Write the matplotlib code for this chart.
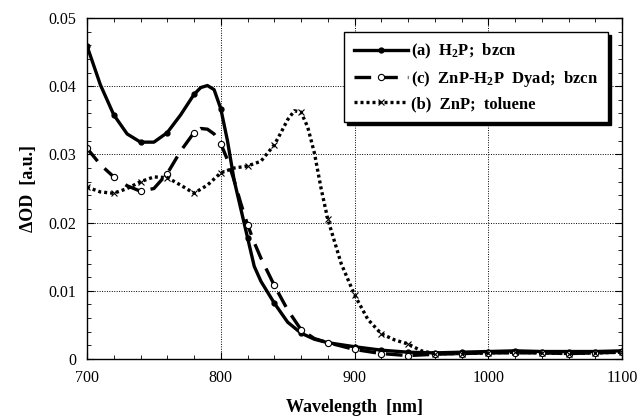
import numpy as np
import matplotlib.pyplot as plt
from matplotlib.ticker import MultipleLocator

# (a) H2P in benzonitrile
wl_a = [700, 710, 720, 730, 740, 750, 760, 770, 780, 785, 790, 795, 800, 805, 810, 815, 820,
        825, 830, 840, 850, 860, 870, 880, 890, 900, 920, 940, 960, 980, 1000, 1020, 1040,
        1060, 1080, 1100]
od_a = [0.0459, 0.0402, 0.0358, 0.0330, 0.0318, 0.0318, 0.0332, 0.0358, 0.0388, 0.0398, 0.0401,
        0.0395, 0.0367, 0.0320, 0.0262, 0.0220, 0.0178, 0.0136, 0.0114, 0.0082, 0.0054, 0.0038,
        0.0029, 0.0024, 0.0021, 0.0018, 0.0013, 0.0010, 0.0009, 0.0010, 0.0011, 0.0012, 0.0011,
        0.0011, 0.0011, 0.0012]

# (c) ZnP-H2P dyad in benzonitrile
wl_c = [700, 710, 720, 730, 740, 750, 760, 770, 780, 785, 790, 795, 800, 805, 810, 815, 820,
        825, 830, 840, 850, 860, 870, 880, 890, 900, 920, 940, 960, 980, 1000, 1020, 1040,
        1060, 1080, 1100]
od_c = [0.0309, 0.0285, 0.0267, 0.0254, 0.0246, 0.0250, 0.0272, 0.0305, 0.0332, 0.0338, 0.0337,
        0.0330, 0.0316, 0.0292, 0.0262, 0.0228, 0.0197, 0.0171, 0.0148, 0.0108, 0.0072, 0.0043,
        0.0030, 0.0024, 0.0019, 0.0014, 0.0008, 0.0005, 0.0007, 0.0008, 0.0009, 0.0009, 0.0009,
        0.0008, 0.0009, 0.0010]

# (b) ZnP in toluene
wl_b = [700, 710, 720, 730, 740, 750, 760, 770, 780, 790, 800, 810, 820, 830, 840, 845, 850,
        855, 860, 865, 870, 875, 880, 890, 900, 910, 920, 930, 940, 950, 960, 980, 1000, 1020,
        1040, 1060, 1080, 1100]
od_b = [0.0252, 0.0245, 0.0243, 0.0250, 0.0260, 0.0267, 0.0266, 0.0255, 0.0243, 0.0255, 0.0273,
        0.0280, 0.0283, 0.0290, 0.0314, 0.0332, 0.0351, 0.0364, 0.0362, 0.0340, 0.0302, 0.0250,
        0.0205, 0.0140, 0.0094, 0.0058, 0.0037, 0.0028, 0.0022, 0.0012, 0.0008, 0.0008, 0.0009,
        0.0010, 0.0009, 0.0008, 0.0009, 0.0010]

labels = ["(a)  H$_2$P;  bzcn", "(c)  ZnP-H$_2$P  Dyad;  bzcn", "(b)  ZnP;  toluene"]

plt.rcParams["font.family"] = "Liberation Serif"
plt.rcParams["mathtext.default"] = "regular"


def every20(wl):
    return [i for i, w in enumerate(wl) if w % 20 == 0]


fig = plt.figure(figsize=(6.38, 4.18), dpi=100)
ax = fig.add_axes([0.1364, 0.1411, 0.8386, 0.8158])

ax.plot(wl_a, od_a, color="black", lw=2.4, marker="o", ms=3.5, markevery=every20(wl_a),
        label=labels[0])
ax.plot(wl_c, od_c, color="black", lw=2.4, ls=(0, (5, 3)), marker="o", ms=4.5, mfc="white",
        mec="black", mew=0.8, markevery=every20(wl_c), label=labels[1])
ax.plot(wl_b, od_b, color="black", lw=2.4, ls=(0, (0.9, 0.9)), marker="x", ms=4, mew=0.8,
        markevery=every20(wl_b), label=labels[2])

ax.set_xlim(700, 1100)
ax.set_ylim(0, 0.05)
ax.xaxis.set_major_locator(MultipleLocator(100))
ax.xaxis.set_minor_locator(MultipleLocator(20))
ax.yaxis.set_major_locator(MultipleLocator(0.01))
ax.yaxis.set_minor_locator(MultipleLocator(0.002))
ax.set_yticks(np.arange(0, 0.051, 0.01))
ax.set_yticklabels(["0", "0.01", "0.02", "0.03", "0.04", "0.05"])
ax.tick_params(which="both", direction="in", top=True, right=True, labelsize=11.5, pad=8)
ax.tick_params(which="major", length=5)
ax.tick_params(which="minor", length=3)
ax.grid(True, which="major", ls=(0, (1, 1.5)), lw=0.7, color="black")
for s in ax.spines.values():
    s.set_linewidth(1.0)

ax.set_xlabel("Wavelength  [nm]", fontsize=13, fontweight="bold", labelpad=9)
ax.set_ylabel("ΔOD  [a.u.]", fontsize=13, fontweight="bold", labelpad=8)

leg = ax.legend(loc="upper right", bbox_to_anchor=(0.974, 0.959), borderaxespad=0,
                fancybox=False, shadow={"color": "black", "alpha": 1}, framealpha=1,
                edgecolor="black", prop={"weight": "bold", "size": 12}, handlelength=3.2,
                handletextpad=0.2, labelspacing=0.45, borderpad=0.6)
leg.get_frame().set_linewidth(1.0)

plt.savefig("out.png", dpi=100)
